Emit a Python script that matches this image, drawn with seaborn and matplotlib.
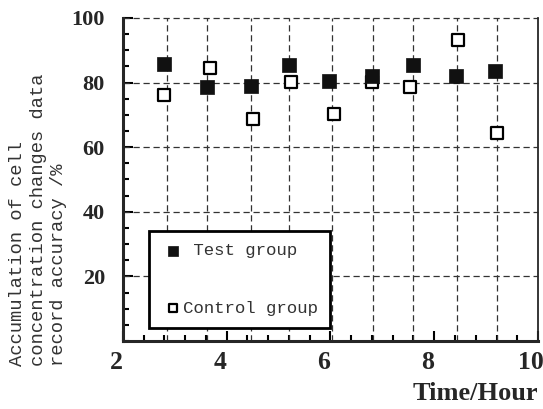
import matplotlib
matplotlib.use("Agg")
import matplotlib.pyplot as plt
import matplotlib.ticker as mticker
import matplotlib.transforms as mtransforms
import numpy as np
import pandas as pd
import seaborn as sns

# values
time_test = [2.79, 3.62, 4.47, 5.20, 5.97, 6.80, 7.59, 8.42, 9.17]
acc_test = [85.8, 78.7, 79.0, 85.5, 80.5, 82.1, 85.5, 82.1, 83.6]
time_ctrl = [2.79, 3.68, 4.51, 5.24, 6.06, 6.80, 7.53, 8.45, 9.21]
acc_ctrl = [76.2, 84.6, 68.8, 80.2, 70.3, 80.2, 78.7, 93.2, 64.5]
grid_x = [2.85, 3.62, 4.47, 5.20, 6.03, 6.82, 7.59, 8.44, 9.21]
grid_y = [20, 40, 60, 80, 100]
x_ticks = [2, 4, 6, 8, 10]
y_ticks = [20, 40, 60, 80, 100]

df_test = pd.DataFrame({"time": time_test, "acc": acc_test})
df_ctrl = pd.DataFrame({"time": time_ctrl, "acc": acc_ctrl})

sns.set_style("ticks")
plt.rcParams["font.family"] = ["Liberation Serif", "DejaVu Serif"]

fig = plt.figure(figsize=(5.43, 4.09), dpi=100, facecolor="w")
ax = fig.add_axes([0.2265, 0.1663, 0.7643, 0.7897])

grid_kw = dict(colors="#333333", linewidth=0.9, linestyles=(0, (5, 3)), zorder=1)
ax.vlines(grid_x, 0, 100, **grid_kw)
ax.hlines(grid_y, 2, 10, clip_on=False, **grid_kw)

sns.scatterplot(data=df_ctrl, x="time", y="acc", ax=ax, marker="s", s=70,
                facecolor="white", edgecolor="black", linewidth=1.6,
                label="Control group", zorder=3)
sns.scatterplot(data=df_test, x="time", y="acc", ax=ax, marker="s", s=95,
                color="#111111", edgecolor="#111111", linewidth=0.5,
                label=" Test group", zorder=4)

ax.set_xlim(2, 10)
ax.set_ylim(0, 100)
ax.set_xticks(x_ticks)
ax.set_yticks(y_ticks)
ax.xaxis.set_minor_locator(mticker.MultipleLocator(0.4))
ax.yaxis.set_minor_locator(mticker.MultipleLocator(5))
ax.tick_params(axis="both", which="both", direction="in", width=1.5, color="black")
ax.tick_params(axis="both", which="major", length=7)
ax.tick_params(axis="both", which="minor", length=4.5)
ax.tick_params(axis="x", which="major", labelsize=18.5, pad=7)
ax.tick_params(axis="y", which="major", labelsize=16, pad=13)
shift = mtransforms.ScaledTranslation(-5 / 72, 0, fig.dpi_scale_trans)
for lab in ax.get_xticklabels():
    lab.set_fontweight("bold")
    lab.set_transform(lab.get_transform() + shift)
for lab in ax.get_yticklabels():
    lab.set_fontweight("bold")

ax.spines["top"].set_visible(False)
ax.spines["left"].set_linewidth(2.2)
ax.spines["bottom"].set_linewidth(2.2)
ax.spines["right"].set_linewidth(1.3)

ax.set_xlabel("Time/Hour", fontsize=19, fontweight="bold", loc="right", labelpad=6)
ax.set_ylabel("")

mono = ["Liberation Mono", "DejaVu Sans Mono"]
fig.text(0.016, 1 - 366 / 409,
         "Accumulation of cell\nconcentration changes data\nrecord accuracy /%",
         rotation=90, ha="left", va="bottom", multialignment="left",
         family=mono, fontsize=13.5, linespacing=1.3, color="#333333")

# legend: test group first
handles, labels = ax.get_legend_handles_labels()
order = [1, 0]
leg = ax.legend([handles[i] for i in order], [labels[i] for i in order],
                loc="lower left", bbox_to_anchor=(0.063, 0.04), fancybox=False,
                framealpha=1, edgecolor="black", borderpad=0.7, labelspacing=2.45,
                handlelength=1.36, handletextpad=-0.1, borderaxespad=0,
                markerscale=0.75, prop={"family": mono, "size": 12.5})
leg.get_frame().set_linewidth(2)
for t in leg.get_texts():
    t.set_color("#333333")

fig.savefig("out.png", dpi=100, facecolor="w")
